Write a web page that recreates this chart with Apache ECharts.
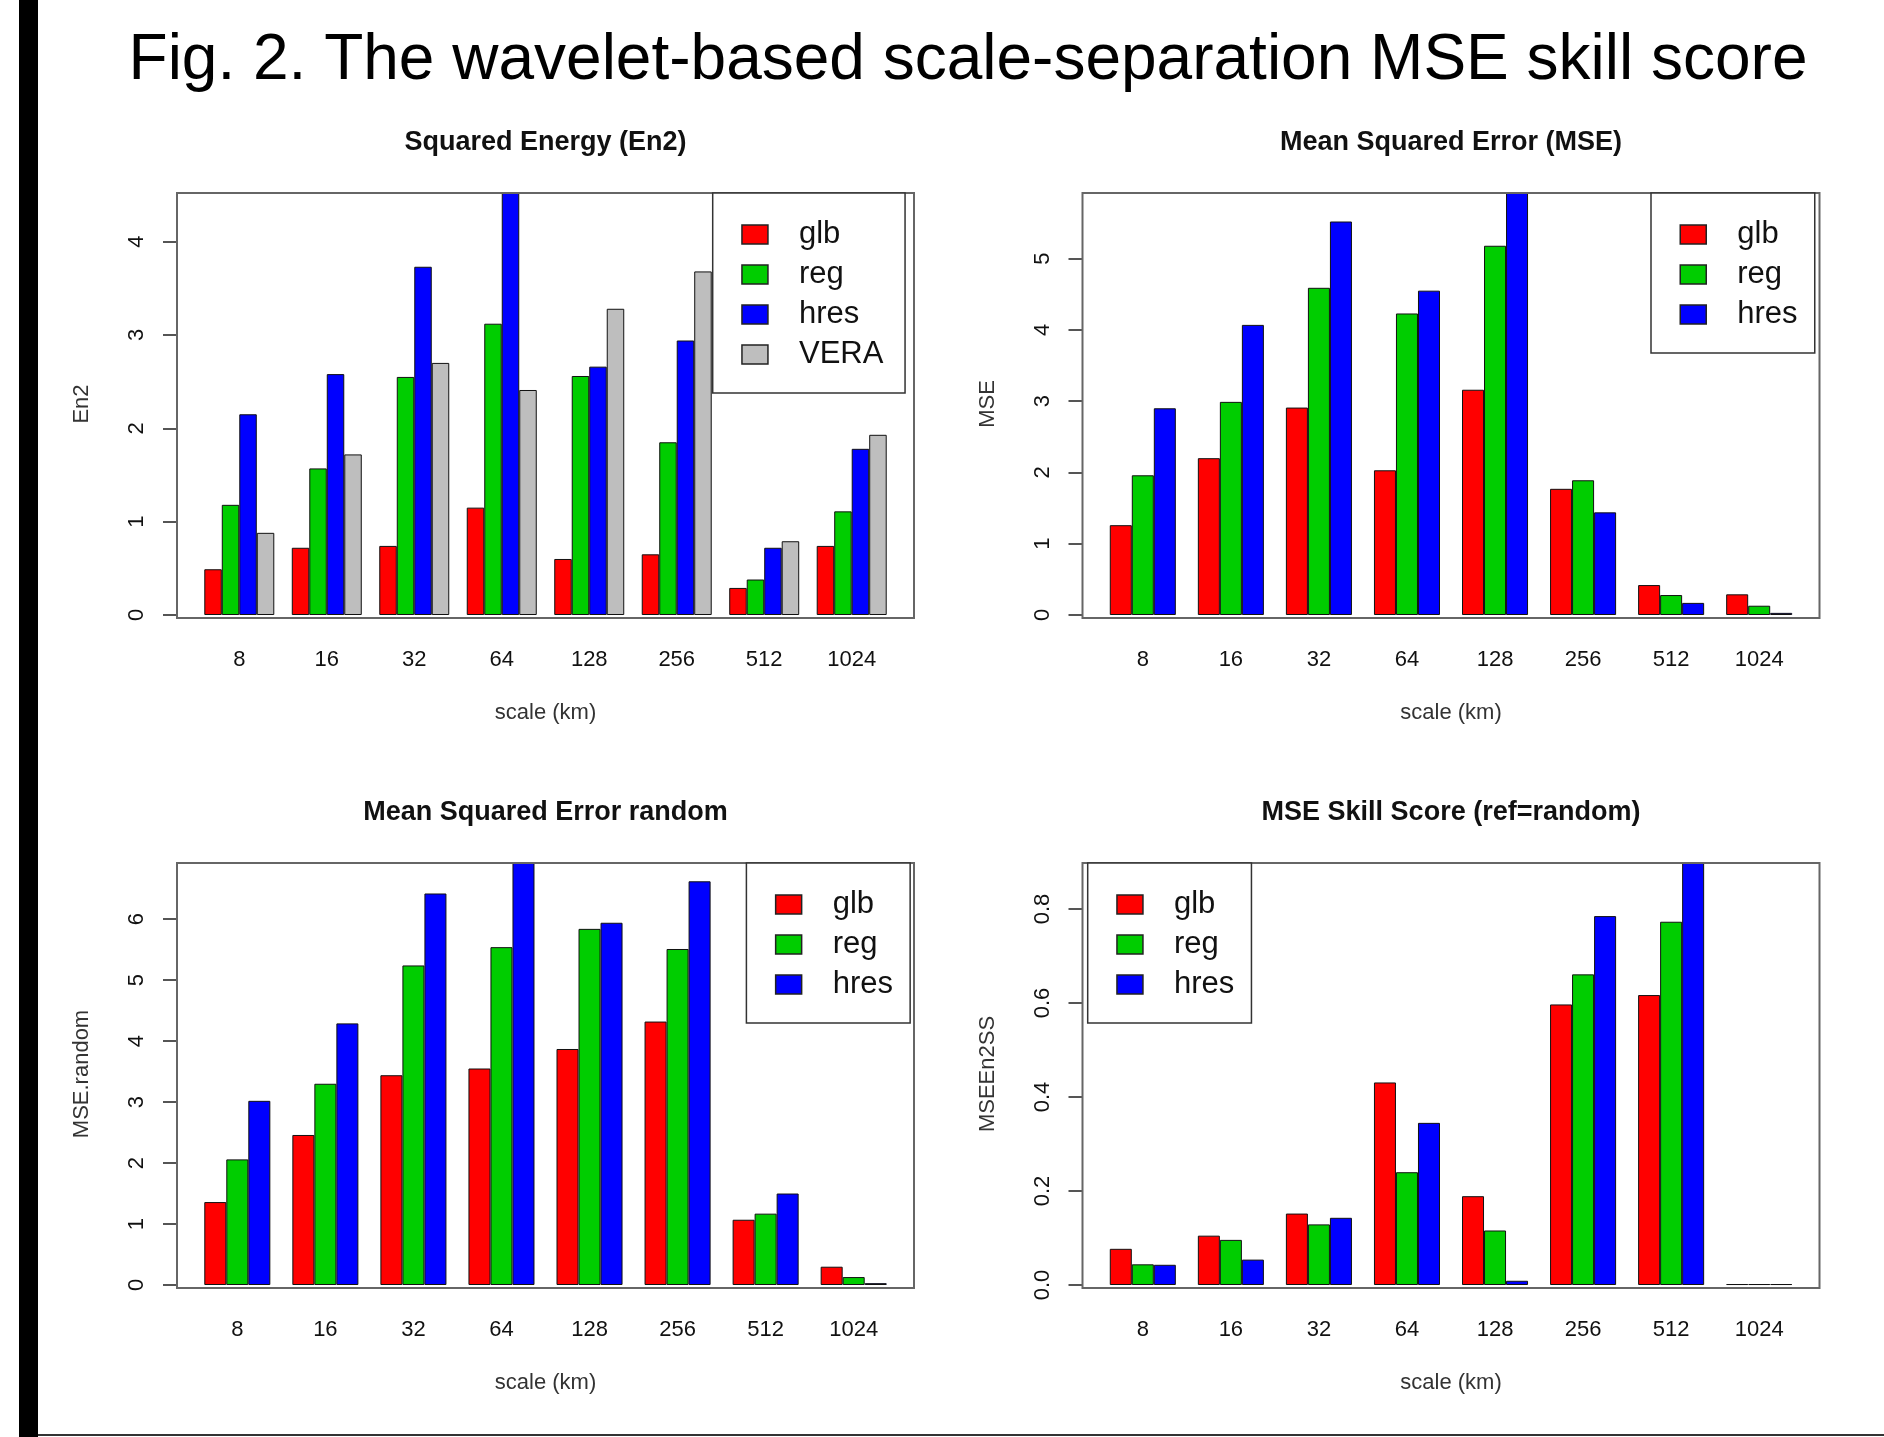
<!DOCTYPE html>
<html>
<head>
<meta charset="utf-8">
<script src="https://cdn.jsdelivr.net/npm/echarts@6/dist/echarts.min.js"></script>
<style>
html,body{margin:0;padding:0;background:#fff;}
#c{width:1884px;height:1437px;}
</style>
</head>
<body>
<div id="c"></div>
<script>
// ---------------- data ----------------
const categories = ['8', '16', '32', '64', '128', '256', '512', '1024'];

// Squared Energy (En2)
const en2Glb  = [0.49, 0.72, 0.74, 1.15, 0.60, 0.65, 0.29, 0.74];
const en2Reg  = [1.18, 1.57, 2.55, 3.12, 2.56, 1.85, 0.38, 1.11];
const en2Hres = [2.15, 2.58, 3.73, 4.52, 2.66, 2.94, 0.72, 1.78];
const en2Vera = [0.88, 1.72, 2.70, 2.41, 3.28, 3.68, 0.79, 1.93];
const en2Ticks = [0, 1, 2, 3, 4];

// Mean Squared Error (MSE)
const mseGlb  = [1.26, 2.20, 2.91, 2.03, 3.16, 1.77, 0.42, 0.29];
const mseReg  = [1.96, 2.99, 4.59, 4.23, 5.18, 1.89, 0.28, 0.13];
const mseHres = [2.90, 4.07, 5.52, 4.55, 5.92, 1.44, 0.17, 0.03];
const mseTicks = [0, 1, 2, 3, 4, 5];

// Mean Squared Error random
const rndGlb  = [1.36, 2.46, 3.44, 3.55, 3.87, 4.32, 1.07, 0.30];
const rndReg  = [2.06, 3.30, 5.24, 5.54, 5.84, 5.51, 1.17, 0.13];
const rndHres = [3.02, 4.29, 6.42, 6.92, 5.94, 6.62, 1.50, 0.03];
const rndTicks = [0, 1, 2, 3, 4, 5, 6];

// MSE Skill Score (ref=random)
const ssGlb  = [0.077, 0.105, 0.152, 0.431, 0.189, 0.597, 0.617, 0.002];
const ssReg  = [0.044, 0.096, 0.129, 0.240, 0.116, 0.661, 0.773, 0.002];
const ssHres = [0.043, 0.054, 0.143, 0.345, 0.009, 0.785, 0.898, 0.002];
const ssTicks = [0, 0.2, 0.4, 0.6, 0.8];

const seriesNames4 = ['glb', 'reg', 'hres', 'VERA'];
const seriesNames3 = ['glb', 'reg', 'hres'];

const mainTitle = 'Fig. 2. The wavelet-based scale-separation MSE skill score';
const xName = 'scale (km)';

// ---------------- styling / layout ----------------
const FONT = "'Liberation Sans', Arial, Helvetica, sans-serif";
const colorOf = { glb: '#ff0000', reg: '#00cd00', hres: '#0000ff', VERA: '#bebebe' };
const colLefts = [177, 1082.5];
const rowTops = [193, 863];
const BOX_W = 737, BOX_H = 425, ZERO_OFF = 422;

const panels = [
  { title: 'Squared Energy (En2)', yName: 'En2', names: seriesNames4,
    data: [en2Glb, en2Reg, en2Hres, en2Vera], ticks: en2Ticks, dec: 0,
    col: 0, row: 0, legendLeft: 712.7, legendWidth: 191.6 },
  { title: 'Mean Squared Error (MSE)', yName: 'MSE', names: seriesNames3,
    data: [mseGlb, mseReg, mseHres], ticks: mseTicks, dec: 0,
    col: 1, row: 0, legendLeft: 1651, legendWidth: 163 },
  { title: 'Mean Squared Error random', yName: 'MSE.random', names: seriesNames3,
    data: [rndGlb, rndReg, rndHres], ticks: rndTicks, dec: 0,
    col: 0, row: 1, legendLeft: 746.4, legendWidth: 163 },
  { title: 'MSE Skill Score (ref=random)', yName: 'MSEEn2SS', names: seriesNames3,
    data: [ssGlb, ssReg, ssHres], ticks: ssTicks, dec: 1,
    col: 1, row: 1, legendLeft: 1087.7, legendWidth: 163 }
];

const measureCtx = document.createElement('canvas').getContext('2d');
measureCtx.font = '31px ' + FONT;

const option = {
  animation: false,
  backgroundColor: '#ffffff',
  textStyle: { fontFamily: FONT },
  title: [{
    text: mainTitle, left: 968, top: 29, textAlign: 'center', padding: 0,
    textStyle: { fontSize: 64, fontWeight: 'normal', color: '#000', fontFamily: FONT, lineHeight: 64 }
  }],
  grid: [], xAxis: [], yAxis: [], series: [], legend: [],
  graphic: [
    { type: 'rect', silent: true, shape: { x: 19, y: 0, width: 19, height: 1437 }, style: { fill: '#000' } },
    { type: 'rect', silent: true, shape: { x: 38, y: 1434, width: 1846, height: 2 }, style: { fill: '#333' } }
  ]
};

panels.forEach(function (p, i) {
  const bl = colLefts[p.col], bt = rowTops[p.row];
  const n = p.names.length, pitch = n + 1, range = 8 * pitch - 1;
  const unit = BOX_W / (range * 1.08);
  const gl = bl + (0.04 * range - 0.5) * unit;
  const gw = 8 * pitch * unit;

  option.grid.push({ left: gl, top: bt, width: gw, height: ZERO_OFF, containLabel: false, outerBoundsMode: 'none', show: false });

  option.title.push({
    text: p.title, left: bl + BOX_W / 2, top: bt - 64, textAlign: 'center', padding: 0,
    textStyle: { fontSize: 27, fontWeight: 'bold', color: '#111', fontFamily: FONT, lineHeight: 27 }
  });

  option.xAxis.push({
    type: 'category', gridIndex: i, data: categories,
    axisLine: { show: false }, axisTick: { show: false }, splitLine: { show: false },
    axisLabel: { interval: 0, fontSize: 22, lineHeight: 22, color: '#111', margin: 33.5, fontFamily: FONT },
    name: xName, nameLocation: 'middle', nameGap: 87, nameMoveOverlap: false,
    nameTextStyle: { fontSize: 22, lineHeight: 22, color: '#333', fontFamily: FONT }
  });

  option.yAxis.push({
    type: 'value', gridIndex: i, min: 0, max: function (v) { return v.max; },
    offset: gl - bl, splitLine: { show: false }, axisLine: { show: false },
    axisTick: { show: true, length: 14, customValues: p.ticks, lineStyle: { color: '#555', width: 2 } },
    axisLabel: {
      customValues: p.ticks, rotate: 90, fontSize: 22, lineHeight: 22, color: '#111', margin: 29,
      fontFamily: FONT, formatter: function (v) { return Number(v).toFixed(p.dec); }
    },
    name: p.yName, nameLocation: 'middle', nameRotate: 90, nameGap: 84, nameMoveOverlap: false,
    nameTextStyle: { fontSize: 22, lineHeight: 22, color: '#333', fontFamily: FONT }
  });

  p.names.forEach(function (nm, k) {
    option.series.push({
      type: 'bar', name: nm, xAxisIndex: i, yAxisIndex: i, data: p.data[k],
      barGap: '0%', barCategoryGap: (100 / pitch) + '%',
      itemStyle: { color: colorOf[nm], borderColor: '#111', borderWidth: 1 },
      emphasis: { disabled: true }
    });
  });

  option.graphic.push({
    type: 'rect', silent: true, z: 100,
    shape: { x: bl, y: bt, width: BOX_W, height: BOX_H },
    style: { fill: null, stroke: '#666', lineWidth: 2 }
  });

  let tw = 0;
  p.names.forEach(function (nm) { tw = Math.max(tw, measureCtx.measureText(nm).width); });
  const padL = 28.5, pr = Math.max(4, p.legendWidth - (padL + 26 + 5 + 26 + tw));
  option.legend.push({
    data: p.names, left: p.legendLeft, top: bt, orient: 'vertical',
    padding: [26, pr, 23, padL], itemWidth: 26, itemHeight: 19, itemGap: 9,
    icon: 'rect', borderColor: '#333', borderWidth: 1.5, backgroundColor: '#fff',
    selectedMode: false, z: 120,
    itemStyle: { borderColor: '#222', borderWidth: 1.5 },
    formatter: function (name) { return '{t|' + name + '}'; },
    textStyle: {
      fontSize: 31, lineHeight: 30, color: '#111', fontFamily: FONT,
      rich: { t: { padding: [0, 0, 0, 26], fontSize: 31, lineHeight: 30, color: '#111', fontFamily: FONT } }
    }
  });
});

const chart = echarts.init(document.getElementById('c'), null, { renderer: 'canvas' });
chart.setOption(option);
</script>
</body>
</html>
